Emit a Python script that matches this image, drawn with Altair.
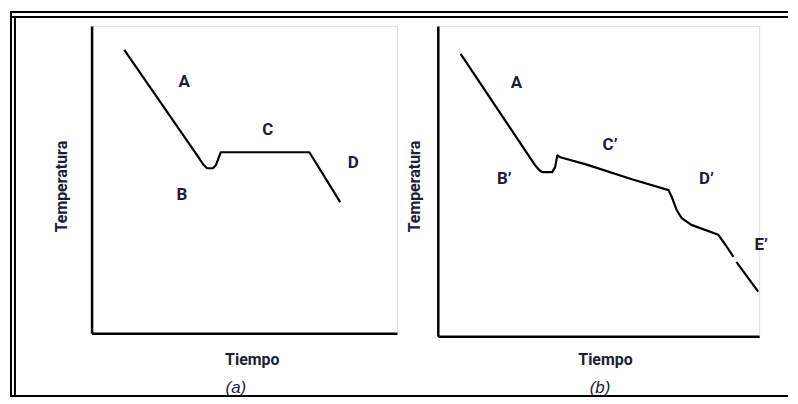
import altair as alt
import pandas as pd

# ---------------- data ----------------
# panel (a): cooling curve of a pure metal
time_a = [10.7, 35.2, 36.5, 37.8, 39.7, 40.7, 41.7, 42.3, 71.3, 81.4]
temp_a = [92.2, 57.0, 55.0, 53.7, 53.7, 54.7, 57.3, 58.9, 58.9, 42.7]
segment_a = [1] * 10
label_a = ["A", "B", "C", "D"]
label_time_a = [30.3, 29.6, 57.7, 85.7]
label_temp_a = [81.6, 45.0, 66.0, 55.3]

# panel (b): cooling curve of an alloy
time_b = [7.1, 30.3, 31.6, 32.5, 35.6, 36.5, 37.2, 38.1, 46.1, 60.4,
          71.8, 72.8, 74.3, 75.9, 78.9, 87.3, 89.5, 92.0, 92.9, 99.7]
temp_b = [91.0, 55.1, 53.5, 52.9, 52.9, 54.5, 58.3, 57.7, 55.4, 50.6,
          47.1, 44.9, 40.7, 38.1, 35.9, 32.7, 29.5, 25.6, 24.0, 14.4]
segment_b = [1] * 18 + [2] * 2
label_b = ["A", "B’", "C’", "D’", "E’"]
label_time_b = [24.5, 20.7, 53.6, 83.6, 100.6]
label_temp_b = [81.7, 50.6, 61.5, 50.6, 29.5]

FONT = "Roboto, Liberation Sans, sans-serif"
CAP_FONT = "Liberation Sans, Roboto, sans-serif"
INK = "#1b2033"


def one_value_chart():
    return alt.Chart(alt.Data(values=[{}]))


def make_panel(times, temps, segs, labels, lt, lT, w, h,
               xt_x, xt_y, yt_x, yt_y, caption, cap_x, cap_y):
    line_df = pd.DataFrame({"Tiempo": times, "Temperatura": temps, "tramo": segs})
    lab_df = pd.DataFrame({"Tiempo": lt, "Temperatura": lT, "etiqueta": labels})
    xs = alt.Scale(domain=[0, 100], nice=False, zero=False)
    ys = alt.Scale(domain=[0, 100], nice=False, zero=False)
    xaxis = alt.Axis(title="Tiempo", ticks=False, labels=False, grid=False,
                     domain=True, domainColor="black", domainWidth=2.5,
                     titleX=xt_x, titleY=xt_y, titleAlign="center",
                     titleBaseline="middle", titleFont=FONT, titleFontSize=16,
                     titleFontWeight="bold", titleColor=INK)
    yaxis = alt.Axis(title="Temperatura", ticks=False, labels=False, grid=False,
                     domain=True, domainColor="black", domainWidth=2.5,
                     titleAngle=270, titleX=yt_x, titleY=yt_y, titleAlign="center",
                     titleBaseline="middle", titleFont=FONT, titleFontSize=16,
                     titleFontWeight="bold", titleColor=INK)
    line = alt.Chart(line_df).mark_line(color="black", strokeWidth=2.2,
                                        strokeJoin="round").encode(
        x=alt.X("Tiempo:Q", scale=xs, axis=xaxis),
        y=alt.Y("Temperatura:Q", scale=ys, axis=yaxis),
        detail="tramo:N",
    )
    text = alt.Chart(lab_df).mark_text(font=FONT, fontSize=17, fontWeight="bold",
                                       color=INK).encode(
        x="Tiempo:Q", y="Temperatura:Q", text="etiqueta:N")
    cap = one_value_chart().mark_text(text=caption, font=CAP_FONT, fontSize=17,
                                      fontStyle="italic", color=INK,
                                      baseline="middle").encode(
        x=alt.value(cap_x), y=alt.value(cap_y))
    return [line, text, cap], w, h


def rule(**enc):
    return one_value_chart().mark_rule(color="black", strokeWidth=2).encode(**enc)


# decorative double frame around the figure (pixel positions relative to panel a)
frame = [
    rule(x=alt.value(-82), x2=alt.value(700), y=alt.value(-14)),
    rule(x=alt.value(-82), x2=alt.value(700), y=alt.value(-9)),
    rule(x=alt.value(-82), x2=alt.value(700), y=alt.value(372)),
    rule(x=alt.value(-81), y=alt.value(-15), y2=alt.value(373)),
    rule(x=alt.value(-77), y=alt.value(-10), y2=alt.value(373)),
]

layers_a, wa, ha = make_panel(time_a, temp_a, segment_a, label_a, label_time_a,
                              label_temp_a, 307, 309, 161, 26, -30, 161,
                              "(a)", 145, 364)
layers_b, wb, hb = make_panel(time_b, temp_b, segment_b, label_b, label_time_b,
                              label_temp_b, 323, 312, 168, 23, -23, 161,
                              "(b)", 163, 364)

panel_a = alt.layer(*layers_a, *frame).properties(width=wa, height=ha)
panel_b = alt.layer(*layers_b).properties(width=wb, height=hb)

chart = alt.hconcat(panel_a, panel_b, spacing=41, bounds="flush").properties(
    padding=0
).configure_view(stroke="transparent", strokeWidth=0).configure(background="white")

chart.save("out.html", embed_options={"renderer": "svg", "actions": False})
